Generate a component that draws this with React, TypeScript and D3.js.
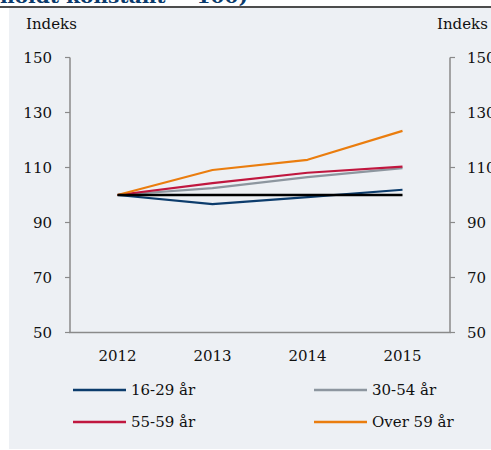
import React from "react";
import * as d3 from "d3";

const years = ["2012", "2013", "2014", "2015"];
const yTicks = [50, 70, 90, 110, 130, 150];
const seriesNames = ["16-29 år", "30-54 år", "55-59 år", "Over 59 år"];
const s1629 = [100, 96.7, 99.2, 101.9];
const s3054 = [100, 102.5, 106.5, 109.8];
const s5559 = [100, 104.3, 108.1, 110.3];
const sOver59 = [100, 109.1, 112.8, 123.3];
const baseline = [100, 100, 100, 100];
const colors = ["#0c3c6c", "#8d969f", "#c0173f", "#ea7d0e"];
const titleText = "holdt konstant = 100)";
const axisLabel = "Indeks";

const FONT = "DejaVu Serif";

export default function App() {
  const W = 491;
  const H = 450;
  const x = d3.scaleBand<string>().domain(years).range([70, 450]);
  const y = d3.scaleLinear().domain([50, 150]).range([332.5, 57.5]);
  const cx = (d: string) => (x(d) as number) + x.bandwidth() / 2;
  const line = d3
    .line<number>()
    .x((_, i) => cx(years[i]))
    .y((v) => y(v));
  const allSeries = [s1629, s3054, s5559, sOver59];
  const drawOrder = [1, 0, 2, 3];
  const legendPos = [
    { x: 73, y: 390 },
    { x: 314, y: 390 },
    { x: 73, y: 422 },
    { x: 314, y: 422 },
  ];
  const axisColor = "#8a8a8a";
  return (
    <svg
      width={W}
      height={H}
      style={{ position: "absolute", left: 0, top: 0 }}
      fontFamily={FONT}
    >
      <rect x={0} y={0} width={W} height={H} fill="#ffffff" />
      <text
        x={0}
        y={3}
        fontSize={19}
        fontWeight="bold"
        fill="#0b3a6b"
        textLength={248}
        lengthAdjust="spacingAndGlyphs"
      >
        {titleText}
      </text>
      <rect x={9} y={8} width={W - 9} height={441} fill="#edf0f4" />
      <line x1={0} x2={W} y1={7} y2={7} stroke="#111" strokeWidth={1.5} />
      <text x={26} y={29} fontSize={15} fill="#111">
        {axisLabel}
      </text>
      <text x={437} y={29} fontSize={15} fill="#111">
        {axisLabel}
      </text>
      {/* axes */}
      <line x1={70} x2={70} y1={y(150)} y2={y(50)} stroke={axisColor} strokeWidth={1.5} />
      <line x1={450} x2={450} y1={y(150)} y2={y(50)} stroke={axisColor} strokeWidth={1.5} />
      <line x1={69} x2={451} y1={y(50)} y2={y(50)} stroke={axisColor} strokeWidth={1.5} />
      {yTicks.map((t) => (
        <g key={t}>
          <line x1={65} x2={70} y1={y(t)} y2={y(t)} stroke={axisColor} strokeWidth={1.2} />
          <line x1={450} x2={455} y1={y(t)} y2={y(t)} stroke={axisColor} strokeWidth={1.2} />
          <text x={52} y={y(t)} dy="0.36em" fontSize={15} textAnchor="end" fill="#111">
            {t}
          </text>
          <text x={467} y={y(t)} dy="0.36em" fontSize={15} fill="#111">
            {t}
          </text>
        </g>
      ))}
      {years.map((yr) => (
        <text key={yr} x={cx(yr)} y={361} fontSize={15} textAnchor="middle" fill="#111">
          {yr}
        </text>
      ))}
      {/* series */}
      {drawOrder.map((i) => (
        <path
          key={i}
          d={line(allSeries[i]) || ""}
          fill="none"
          stroke={colors[i]}
          strokeWidth={2.2}
          strokeLinejoin="round"
        />
      ))}
      <path d={line(baseline) || ""} fill="none" stroke="#000" strokeWidth={2.4} />
      {/* legend */}
      {seriesNames.map((n, i) => (
        <g key={n}>
          <line
            x1={legendPos[i].x}
            x2={legendPos[i].x + 53}
            y1={legendPos[i].y}
            y2={legendPos[i].y}
            stroke={colors[i]}
            strokeWidth={2.5}
          />
          <text x={legendPos[i].x + 58} y={legendPos[i].y} dy="0.36em" fontSize={15} fill="#111">
            {n}
          </text>
        </g>
      ))}
    </svg>
  );
}
